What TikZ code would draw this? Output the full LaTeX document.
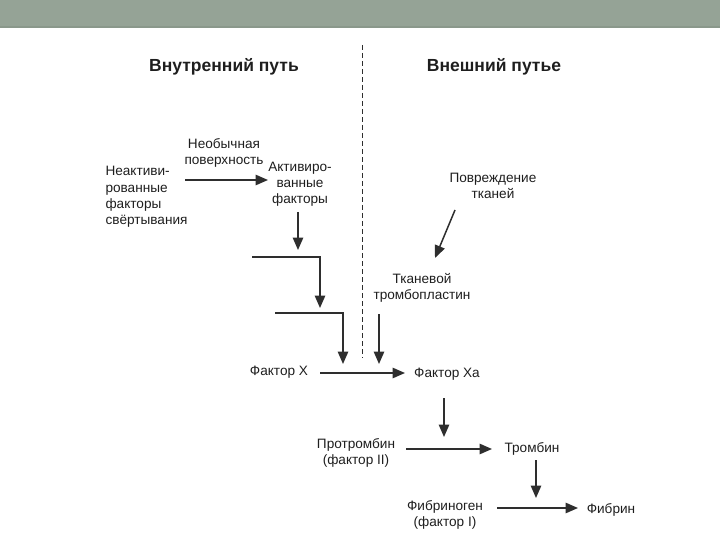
\documentclass[tikz,border=0pt]{standalone}
\usepackage{fontspec}
\setmainfont{Liberation Sans}
\usepackage{xcolor}
\usetikzlibrary{positioning, arrows.meta, calc}
\definecolor{bandGray}{HTML}{95A396}
\definecolor{bandEdge}{HTML}{8A988B}
\definecolor{inkText}{HTML}{1E1E1E}
\definecolor{inkLine}{HTML}{2E2E2E}

\begin{document}
\begin{tikzpicture}[
  x=1pt, y=-1pt,
  every node/.style={font=\fontsize{13.6}{16.2}\selectfont, text=inkText, inner sep=0pt},
  lbl/.style={align=center},
  lbll/.style={align=left},
  ttl/.style={font=\fontsize{17.5}{20}\selectfont\bfseries, text=inkText},
  flow/.style={-{Triangle[length=12.5pt, width=10.5pt]}, draw=inkLine, line width=1.5pt},
  divider/.style={draw=inkLine, line width=1pt, dash pattern=on 5pt off 3pt},
]
  \useasboundingbox (0,0) rectangle (720,540);
  \fill[bandGray] (0,0) rectangle (720,28);
  \fill[bandEdge] (0,26.5) rectangle (720,28);

  \node[ttl] at (224, 67) (ttl_in) {Внутренний путь};
  \node[ttl] at (494, 67) (ttl_ex) {Внешний путье};

  \coordinate (div_top) at (362, 45);
  \coordinate (div_bot) at (362, 358);
  \draw[divider] (div_top) -- (div_bot);

  \node[lbll] at (146.5, 197) (inact) {Неактиви-\\рованные\\факторы\\свёртывания};
  \node[lbl] at (224, 153) (surf) {Необычная\\поверхность};
  \node[lbl] at (300, 184) (act) {Активиро-\\ванные\\факторы};
  \node[lbl] at (493, 186) (tissue) {Повреждение\\тканей};
  \node[lbl] at (422, 288) (tpl) {Тканевой\\тромбопластин};
  \node at (279, 372) (fx) {Фактор X};
  \node at (447, 374) (fxa) {Фактор Xa};
  \node[lbl] at (356, 453) (prot) {Протромбин\\(фактор II)};
  \node at (532, 449) (thr) {Тромбин};
  \node[lbl] at (445, 515) (fibg) {Фибриноген\\(фактор I)};
  \node at (611, 510) (fib) {Фибрин};

  \coordinate (inact_out) at (185, 180);
  \coordinate (act_in)    at (268, 180);
  \coordinate (act_out)   at (298, 212);
  \coordinate (act_end)   at (298, 250);
  \coordinate (casc1_l)   at (252, 257);
  \coordinate (casc1_r)   at (320, 257);
  \coordinate (casc1_end) at (320, 308);
  \coordinate (casc2_l)   at (275, 313);
  \coordinate (casc2_r)   at (343, 313);
  \coordinate (casc2_end) at (343, 364);
  \coordinate (tpl_out)   at (379, 314);
  \coordinate (tpl_end)   at (379, 364);
  \coordinate (tis_out)   at (455, 210);
  \coordinate (tis_end)   at (435, 258);
  \coordinate (fx_out)    at (320, 373);
  \coordinate (fxa_in)    at (405, 373);
  \coordinate (fxa_out)   at (444, 398);
  \coordinate (fxa_end)   at (444, 437);
  \coordinate (prot_out)  at (406, 449);
  \coordinate (thr_in)    at (492, 449);
  \coordinate (thr_out)   at (536, 460);
  \coordinate (thr_end)   at (536, 498);
  \coordinate (fibg_out)  at (497, 508);
  \coordinate (fib_in)    at (578, 508);

  \draw[flow] (inact_out) -- (act_in);
  \draw[flow] (act_out) -- (act_end);
  \draw[flow] (casc1_l) -- (casc1_r) -- (casc1_end);
  \draw[flow] (casc2_l) -- (casc2_r) -- (casc2_end);
  \draw[flow] (tpl_out) -- (tpl_end);
  \draw[flow] (tis_out) -- (tis_end);
  \draw[flow] (fx_out) -- (fxa_in);
  \draw[flow] (fxa_out) -- (fxa_end);
  \draw[flow] (prot_out) -- (thr_in);
  \draw[flow] (thr_out) -- (thr_end);
  \draw[flow] (fibg_out) -- (fib_in);
\end{tikzpicture}
\end{document}
